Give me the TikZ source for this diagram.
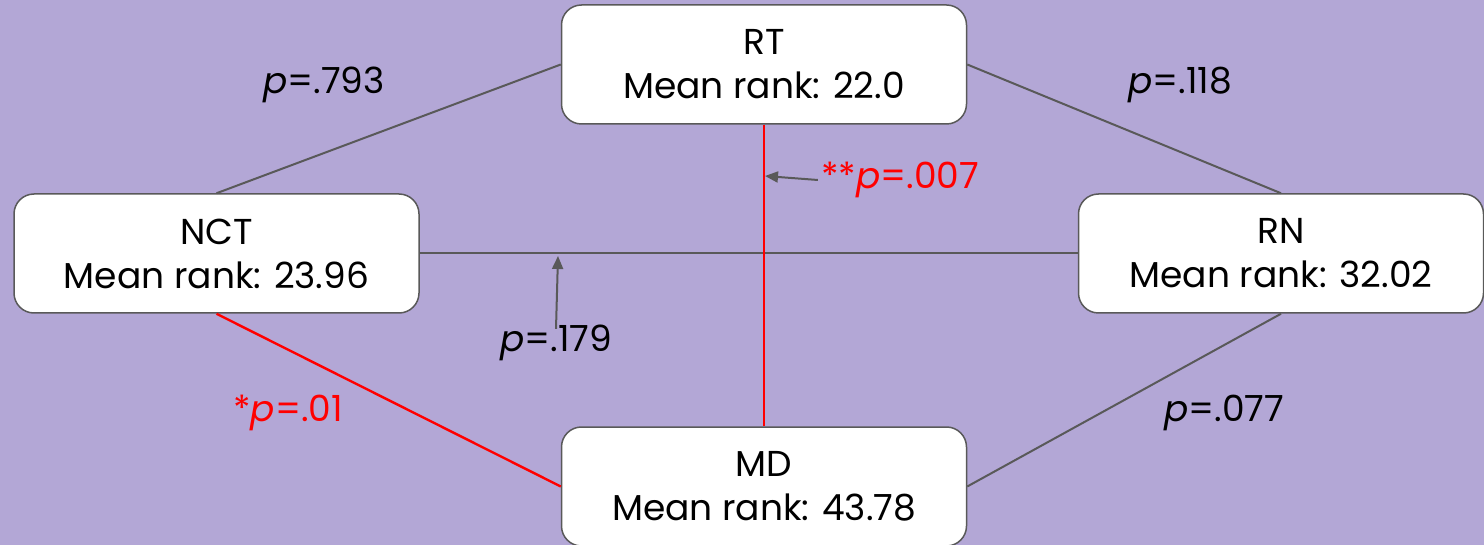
\documentclass[tikz,border=0pt]{standalone}
\usepackage{fontspec}
\setmainfont{Poppins}
\usetikzlibrary{arrows.meta}
\definecolor{lavender}{HTML}{B3A7D6}
\definecolor{edgegray}{HTML}{595959}
\definecolor{sigred}{HTML}{FF0000}
\tikzset{
  group/.style={draw=edgegray, line width=1.5pt, fill=white, rounded corners=20pt,
    minimum width=405pt, minimum height=119pt, align=center, inner sep=0pt,
    font=\fontsize{36}{44}\selectfont},
  link/.style={edgegray, line width=2pt},
  siglink/.style={sigred, line width=2.4pt},
  pval/.style={inner sep=0pt, font=\fontsize{36}{40}\selectfont},
  pointer/.style={edgegray, line width=2pt, -{Triangle[length=13pt, width=11pt]}}
}
\begin{document}
\begin{tikzpicture}[x=1pt, y=-1pt]
    % Background
    \fill[lavender] (0,0) rectangle (1484,545);
    \useasboundingbox (0,0) rectangle (1484,545);
    \clip (0,0) rectangle (1484,545);

    % Groups
    \node[group] (rt) at (764,64.5) {RT\\Mean rank: 22.0};
    \node[group] (nct) at (216.5,253.5) {NCT\\Mean rank: 23.96};
    \node[group] (rn) at (1281,253.5) {RN\\Mean rank: 32.02};
    \node[group] (md) at (764,486.5) {MD\\Mean rank: 43.78};

    % Comparisons
    \draw[link] (rt.west) -- (nct.north);
    \draw[link] (rt.east) -- (rn.north);
    \draw[link] (nct.east) -- (rn.west);
    \draw[link] (rn.south) -- (md.east);
    \draw[siglink] (rt.south) -- (md.north);
    \draw[siglink] (nct.south) -- (md.west);

    % p values
    \node[pval] (p793) at (324,85) {\textit{p}=.793};
    \node[pval] (p118) at (1180,85) {\textit{p}=.118};
    \node[pval, text=sigred] (p007) at (900,180) {**\textit{p}=.007};
    \node[pval] (p179) at (556,343) {\textit{p}=.179};
    \node[pval, text=sigred] (p01) at (288,413) {*\textit{p}=.01};
    \node[pval] (p077) at (1224,413) {\textit{p}=.077};

    % Pointers
    \coordinate (hit007) at (765,176);
    \coordinate (hit179) at (558,256);
    \draw[pointer] ([xshift=-3pt]p007.west) -- (hit007);
    \draw[pointer] ([yshift=-4pt]p179.north) -- (hit179);
\end{tikzpicture}
\end{document}
